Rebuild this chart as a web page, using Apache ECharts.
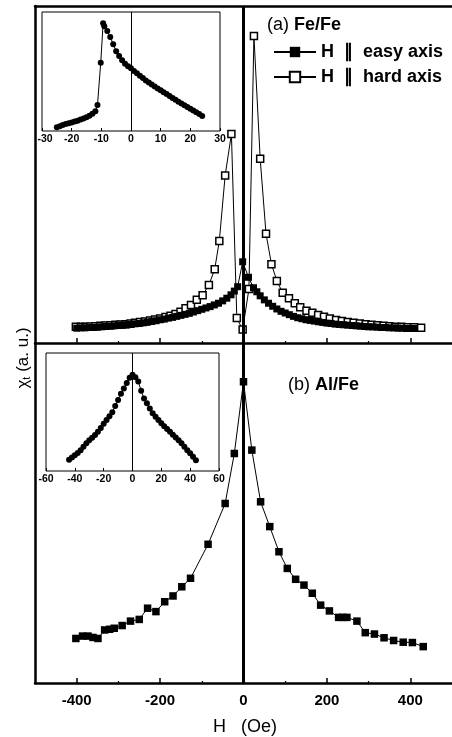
<!DOCTYPE html>
<html><head><meta charset="utf-8">
<script src="https://cdn.jsdelivr.net/npm/echarts@6/dist/echarts.min.js"></script>
<style>html,body{margin:0;padding:0;background:#fff}#c{width:452px;height:737px}</style>
</head><body><div id="c"></div>
<script>
// ---- data ----
const mainMajorTicks = [-400, -200, 0, 200, 400];
const mainMinorTicks = [-300, -100, 100, 300];
const insetATicks = [-30, -20, -10, 0, 10, 20, 30];
const insetBTicks = [-60, -40, -20, 0, 20, 40, 60];
const easyName = 'H  \u2225  easy axis';
const hardName = 'H  \u2225  hard axis';

const easyH = [-400,-390,-380,-370,-360,-350,-340,-330,-320,-310,-300,-290,-280,-270,-260,-250,-240,-230,-220,-210,-200,-190,-180,-170,-160,-150,-140,-130,-120,-110,-100,-90,-80,-70,-60,-50,-40,-30,-22,-14,-2,12,24,32,40,50,60,70,80,90,100,110,120,130,140,150,160,170,180,190,200,210,220,230,240,250,260,270,280,290,300,310,320,330,340,350,360,370,380,390,400,410];
const easyV = [4.4,4.5,4.5,4.6,4.6,4.7,4.8,4.9,5.0,5.1,5.2,5.3,5.4,5.5,5.7,5.8,6.0,6.2,6.4,6.6,6.9,7.1,7.4,7.6,7.9,8.2,8.5,8.8,9.2,9.6,10.0,10.4,10.8,11.3,11.8,12.5,13.3,14.3,15.4,16.7,24.1,19.5,16.4,15.2,14.0,12.8,11.8,10.9,10.1,9.4,8.9,8.4,7.9,7.5,7.2,6.9,6.7,6.5,6.3,6.1,5.9,5.8,5.6,5.5,5.4,5.3,5.2,5.1,5.0,4.9,4.8,4.8,4.7,4.6,4.6,4.5,4.5,4.4,4.4,4.3,4.3,4.3];

const hardH = [-402,-390,-379,-367,-355,-343,-331,-319,-307,-295,-283,-271,-260,-248,-236,-224,-212,-200,-187,-175,-163,-151,-139,-126,-112,-98,-83,-69,-58,-44,-29,-16,-2,13,25,40,54,67,80,94,109,123,136,151,165,179,193,207,222,236,250,264,279,293,307,321,336,350,364,379,393,409,426];
const hardV = [4.8,4.8,4.8,4.9,5.0,5.1,5.2,5.3,5.4,5.5,5.6,5.8,6.0,6.2,6.4,6.7,7.0,7.3,7.7,8.1,8.6,9.3,10.3,11.3,12.8,14.2,17.2,21.9,30.3,49.7,62.0,7.4,4.0,16.0,91.1,54.7,32.4,23.4,18.4,14.9,13.3,11.8,10.6,9.6,9.0,8.3,7.8,7.3,6.8,6.5,6.2,6.0,5.8,5.6,5.4,5.3,5.1,5.0,4.8,4.8,4.7,4.7,4.5];

const alH = [-402,-386,-373,-361,-349,-333,-321,-310,-291,-271,-250,-230,-210,-189,-169,-148,-127,-85,-44,-22,0,20,41,63,85,105,125,145,165,185,206,228,238,248,272,292,314,337,360,383,405,431];
const alV = [13.1,13.8,13.8,13.4,13.1,15.6,15.8,16.1,16.9,18.2,18.7,22.0,21.0,23.9,25.6,28.3,30.8,40.8,52.8,67.5,88.6,68.5,53.3,46.0,38.6,33.7,30.5,28.8,26.4,22.9,21.2,19.3,19.3,19.3,18.2,14.8,14.4,13.3,12.5,12.0,11.9,10.7];

const insetAH = [-25,-24,-23,-22,-21,-20,-19,-18,-17,-16,-15,-14,-13,-12,-11.3,-10.2,-9.4,-9,-8,-7,-6,-5,-4,-3,-2,-1,0,1,2,3,4,5,6,7,8,9,10,11,12,13,14,15,16,17,18,19,20,21,22,23,24];
const insetAV = [3.1,4.0,5.0,5.8,6.6,7.2,8.0,8.7,9.6,10.6,11.6,12.8,14.5,16.5,21.8,57.4,90.5,88,84,79,73,67,63,59.5,56.5,54.5,52.7,50.5,48.5,46.5,44.5,42.5,40.7,39,37.3,35.8,34.2,32.6,31,29.4,27.8,26.2,24.6,23.1,21.6,20.2,18.8,17.3,15.8,14.2,12.6];

const insetBH = [-44,-42,-40,-38,-36,-34,-32,-30,-28,-26,-24,-22,-20,-18,-16,-14,-12,-10,-8,-6,-4,-2,0,2,4,6,8,10,12,14,16,18,20,22,24,26,28,30,32,34,36,38,40,42,44];
const insetBV = [9.5,11.5,13.4,15.3,17.5,20.5,23.5,26.0,28.2,30.6,33.2,36.5,40.0,43.2,46.5,49.8,55.0,60.2,65.5,70.0,74.5,79.0,81.5,79.5,75.8,68.0,61.5,57.5,53.0,49.0,46.0,43.2,40.4,38.0,35.6,33.2,30.8,28.4,26.0,23.5,20.5,17.6,15.0,12.0,9.1];

// ---- chart ----
const FF = '"Liberation Sans", Arial, sans-serif';
const zip = (a, b) => a.map((x, i) => [x, b[i]]);
const chart = echarts.init(document.getElementById('c'), null, {renderer: 'canvas'});
const FRAME = {show: true, onZero: false, lineStyle: {color: '#000', width: 2.5}};

function mainX(gi, showLabels) {
  return [{
    gridIndex: gi, type: 'value', min: -500, max: 500, position: 'bottom',
    axisLine: FRAME,
    axisTick: {show: true, inside: true, length: 5, lineStyle: {color: '#000', width: 1.5}, customValues: mainMajorTicks},
    axisLabel: {show: showLabels, customValues: mainMajorTicks, fontFamily: FF, fontWeight: 'bold', fontSize: 15, color: '#000', margin: 10},
    splitLine: {show: false}
  }, {
    gridIndex: gi, type: 'value', min: -500, max: 500, position: 'bottom',
    axisLine: {show: false},
    axisTick: {show: true, inside: true, length: 2, lineStyle: {color: '#000', width: 1.2}, customValues: mainMinorTicks},
    axisLabel: {show: false},
    splitLine: {show: false}
  }];
}
const topFrameX = (gi) => ({
  gridIndex: gi, type: 'value', min: -500, max: 500, position: 'top',
  axisLine: FRAME, axisTick: {show: false}, axisLabel: {show: false}, splitLine: {show: false}
});
function insetX(gi, ticks, mn, mx, shiftMin) {
  return {
    gridIndex: gi, type: 'value', min: mn, max: mx, interval: ticks[1] - ticks[0],
    axisLine: {show: false},
    axisTick: {show: true, inside: true, length: 3, lineStyle: {color: '#000'}},
    axisLabel: {fontFamily: FF, fontWeight: 'bold', fontSize: 10.5, color: '#000', margin: 3,
      formatter: (v) => (v === mn && shiftMin) ? '{m|' + v + '}' : String(v),
      rich: {m: {fontFamily: FF, fontWeight: 'bold', fontSize: 10.5, color: '#000', padding: [0, 0, 0, shiftMin || 0]}}},
    splitLine: {show: false}
  };
}
const mainY = (gi) => ({gridIndex: gi, type: 'value', min: 0, max: 100, position: 'left',
  axisLine: FRAME, axisTick: {show: false}, axisLabel: {show: false}, splitLine: {show: false}});
const hiddenY = (gi) => ({gridIndex: gi, type: 'value', min: 0, max: 100, show: false});
const zeroLine = (w) => ({
  silent: true, symbol: 'none', label: {show: false}, animation: false,
  lineStyle: {color: '#000', width: w, type: 'solid'}, emphasis: {disabled: true},
  data: [{xAxis: 0}]
});

chart.setOption({
  animation: false,
  backgroundColor: '#fff',
  grid: [
    {left: 35, top: 6, width: 430, height: 337},
    {left: 35, top: 343, width: 430, height: 340},
    {left: 42, top: 12, width: 178, height: 119, show: true, borderColor: '#000', borderWidth: 1},
    {left: 46, top: 353, width: 173, height: 118, show: true, borderColor: '#000', borderWidth: 1}
  ],
  xAxis: [].concat(
    mainX(0, false), [topFrameX(0)], mainX(1, true),
    [insetX(2, insetATicks, -30, 30, 6), insetX(3, insetBTicks, -60, 60, 0)]
  ),
  yAxis: [mainY(0), mainY(1), hiddenY(2), hiddenY(3)],
  legend: {
    data: [easyName, hardName], orient: 'vertical', left: 273, top: 43,
    itemWidth: 42, itemHeight: 13, itemGap: 7, padding: 0,
    textStyle: {fontFamily: FF, fontWeight: 'bold', fontSize: 18, color: '#000'}
  },
  series: [
    {
      name: hardName, type: 'line', xAxisIndex: 0, yAxisIndex: 0, data: zip(hardH, hardV),
      symbol: 'rect', symbolSize: 7, showAllSymbol: true,
      lineStyle: {color: '#000', width: 1},
      itemStyle: {color: '#fff', borderColor: '#000', borderWidth: 1.5}
    },
    {
      name: easyName, type: 'line', xAxisIndex: 0, yAxisIndex: 0, data: zip(easyH, easyV),
      symbol: 'rect', symbolSize: 7, showAllSymbol: true,
      lineStyle: {color: '#000', width: 1},
      itemStyle: {color: '#000'},
      markLine: zeroLine(3)
    },
    {
      name: 'Al/Fe', type: 'line', xAxisIndex: 3, yAxisIndex: 1, data: zip(alH, alV),
      symbol: 'rect', symbolSize: 7.5, showAllSymbol: true,
      lineStyle: {color: '#000', width: 1},
      itemStyle: {color: '#000'},
      markLine: zeroLine(3)
    },
    {
      name: 'insetA', type: 'line', xAxisIndex: 5, yAxisIndex: 2, data: zip(insetAH, insetAV),
      symbol: 'circle', symbolSize: 6, showAllSymbol: true,
      lineStyle: {color: '#000', width: 1},
      itemStyle: {color: '#000'},
      markLine: zeroLine(1)
    },
    {
      name: 'insetB', type: 'line', xAxisIndex: 6, yAxisIndex: 3, data: zip(insetBH, insetBV),
      symbol: 'circle', symbolSize: 6, showAllSymbol: true,
      lineStyle: {color: '#000', width: 1},
      itemStyle: {color: '#000'},
      markLine: zeroLine(1)
    }
  ],
  graphic: [
    {type: 'text', x: 267, y: 25, style: {text: '(a) {b|Fe/Fe}', font: '18px ' + FF, fill: '#000', textVerticalAlign: 'middle',
      rich: {b: {fontWeight: 'bold', fontSize: 18, fontFamily: FF}}}},
    {type: 'text', x: 288, y: 385, style: {text: '(b) {b|Al/Fe}', font: '18px ' + FF, fill: '#000', textVerticalAlign: 'middle',
      rich: {b: {fontWeight: 'bold', fontSize: 18, fontFamily: FF}}}},
    {type: 'text', x: 23, y: 358, rotation: Math.PI / 2,
      style: {text: '\u03c7{s|t} (a. u.)', font: '17px ' + FF, fill: '#000', textAlign: 'center', textVerticalAlign: 'middle',
        rich: {s: {fontSize: 11, fontFamily: FF, padding: [8, 0, 0, 0]}}}},
    {type: 'text', x: 245, y: 727, style: {text: 'H   (Oe)', font: '18px ' + FF, fill: '#000', textAlign: 'center', textVerticalAlign: 'middle'}}
  ]
});
</script></body></html>
